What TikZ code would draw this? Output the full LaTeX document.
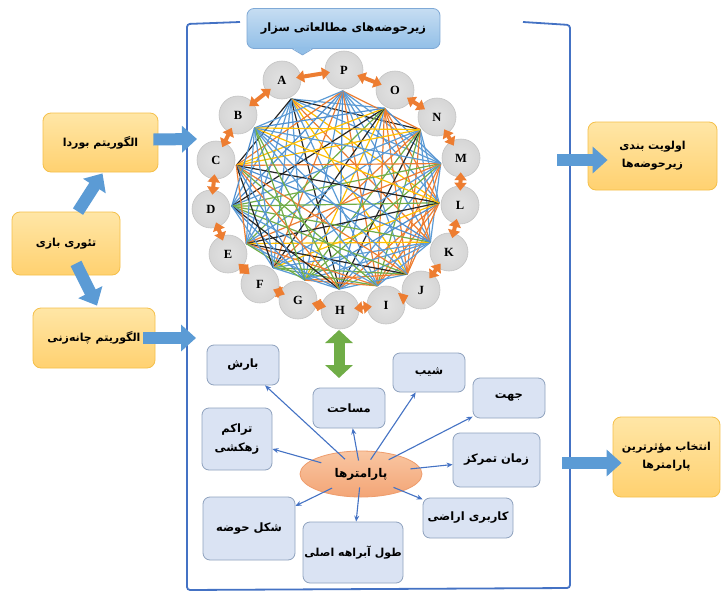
\documentclass[tikz,border=0pt]{standalone}
\usepackage{fontspec}
\setmainfont{Liberation Serif}
\newfontfamily\arabicfont[Script=Arabic]{DejaVu Sans}
\TeXXeTstate=1
\usetikzlibrary{arrows.meta,shapes.geometric,calc}
\newcommand{\prs}[1]{\beginR #1\endR}
\definecolor{frameblue}{HTML}{4472C4}
\definecolor{fatblue}{HTML}{5B9BD5}
\definecolor{fatgreen}{HTML}{70AD47}
\definecolor{orng}{HTML}{ED7D31}
\definecolor{gc0}{HTML}{5B9BD5}
\definecolor{gc1}{HTML}{ED7D31}
\definecolor{gc2}{HTML}{5B9BD5}
\definecolor{gc3}{HTML}{70AD47}
\definecolor{gc4}{HTML}{FFC000}
\definecolor{gc5}{HTML}{5B9BD5}
\definecolor{gc6}{HTML}{262626}
\definecolor{gc7}{HTML}{ED7D31}
\definecolor{gc8}{HTML}{4F8FD0}
\definecolor{gc9}{HTML}{70AD47}
\definecolor{gc10}{HTML}{5B9BD5}
\definecolor{lbedge}{HTML}{F5C04A}
\definecolor{lbtop}{HTML}{FFE6A6}
\definecolor{lbbot}{HTML}{FFD170}
\definecolor{pbedge}{HTML}{8FA2BE}
\definecolor{pbfill}{HTML}{DAE3F3}
\definecolor{gfill}{HTML}{D6D6D6}
\definecolor{gedge}{HTML}{C4C4C4}
\definecolor{parrc}{HTML}{4472C4}
\definecolor{tedge}{HTML}{7FA9D6}
\definecolor{ttop}{HTML}{C6DDF2}
\definecolor{tbot}{HTML}{92BFE7}
\definecolor{eedge}{HTML}{EE9C6C}
\definecolor{etop}{HTML}{F9C6A2}
\definecolor{ebot}{HTML}{F3A576}
\pgfdeclarelayer{bg}
\pgfdeclarelayer{bgw}
\pgfsetlayers{bgw,bg,main}
\begin{document}
\begin{tikzpicture}[x=1pt,y=-1pt,
  leftbox/.style={draw=lbedge, line width=0.8pt, rounded corners=8pt, top color=lbtop, bottom color=lbbot,
    font=\arabicfont\bfseries\fontsize{11}{18}\selectfont, align=center, inner sep=0pt},
  parbox/.style={draw=pbedge, line width=0.8pt, rounded corners=7pt, fill=pbfill,
    font=\arabicfont\bfseries\fontsize{11.5}{19}\selectfont, align=center, inner sep=0pt},
  gnode/.style={circle, inner color=gfill!70!white, outer color=gfill, draw=gedge, line width=0.6pt, minimum size=38pt, inner sep=0pt,
    font=\bfseries\fontsize{12.5}{12}\selectfont},
  oarrow/.style={draw=orng, line width=4pt, shorten <=-5pt, shorten >=-5pt,
    {Triangle[width=12pt,length=8pt]}-{Triangle[width=12pt,length=8pt]}},
  fatarrow/.style={draw=fatblue, line width=12pt, -{Triangle[width=26pt,length=15pt]}},
  parr/.style={draw=parrc, line width=1.1pt, shorten <=-10pt, -{Stealth[length=6pt,width=5pt]}},
]
\useasboundingbox (0,0) rectangle (721,592);
\begin{pgfonlayer}{bgw}
\fill[white] (0,0) rectangle (721,592);
\end{pgfonlayer}

% frame bracket
\draw[frameblue, line width=1.8pt, rounded corners=3pt]
  (240,22) -- (187,24) -- (187,590) -- (570,588) -- (570,25) -- (523,22);

% title callout
\node[draw=tedge, line width=0.8pt, rounded corners=7pt, top color=ttop, bottom color=tbot,
  minimum width=193pt, minimum height=40pt, inner sep=0pt,
  font=\arabicfont\bfseries\fontsize{11.5}{12}\selectfont] (title) at (343.5,28.5)
  {\prs{زیرحوضه‌های مطالعاتی سزار}};
\fill[tbot] ([xshift=-51pt,yshift=1pt]title.south) -- ([xshift=-41pt,yshift=-6pt]title.south)
  -- ([xshift=-31pt,yshift=1pt]title.south) -- cycle;
\draw[tedge, line width=0.8pt] ([xshift=-51pt]title.south) -- ([xshift=-41pt,yshift=-6pt]title.south)
  -- ([xshift=-31pt]title.south);

% ring of nodes
\node[gnode] (n1) at (282,80) {A};
\node[gnode] (n2) at (344,70) {P};
\node[gnode] (n3) at (395,90) {O};
\node[gnode] (n4) at (437,117) {N};
\node[gnode] (n5) at (461,158) {M};
\node[gnode] (n6) at (460,205) {L};
\node[gnode] (n7) at (449,252) {K};
\node[gnode] (n8) at (421,290) {J};
\node[gnode] (n9) at (386,305) {I};
\node[gnode] (n10) at (340,310) {H};
\node[gnode] (n11) at (298,300) {G};
\node[gnode] (n12) at (260,284) {F};
\node[gnode] (n13) at (228,254) {E};
\node[gnode] (n14) at (211,209) {D};
\node[gnode] (n15) at (216,160) {C};
\node[gnode] (n16) at (238,115) {B};
\coordinate (ctr) at (336,192);
\foreach \i in {1,...,16} \coordinate (h\i) at ($(n\i)!21pt!(ctr)$);

\begin{pgfonlayer}{bg}
\foreach \i in {1,...,16} {
  \foreach \j in {1,...,16} {
    \pgfmathtruncatemacro\d{abs(\i-\j)}
    \pgfmathtruncatemacro\c{mod(\i*\i*\j+\j*\j*3+\i*5+\j,11)}
    \pgfmathtruncatemacro\ok{(\i<\j)&&(\d>1)&&(\d<15)}
    \ifnum\ok=1
      \draw[color=gc\c, line width=1.2pt] (h\i) -- (h\j);
    \fi
  }
}
\end{pgfonlayer}

\foreach \i/\j in {1/2,2/3,3/4,4/5,5/6,6/7,7/8,8/9,9/10,10/11,11/12,12/13,13/14,14/15,15/16,16/1}
  \draw[oarrow] (n\i) -- (n\j);

% green double arrow
\coordinate (g1) at (339,330);
\coordinate (g2) at (339,378);
\draw[draw=fatgreen, line width=11pt, {Triangle[width=27pt,length=13pt]}-{Triangle[width=27pt,length=13pt]}] (g1) -- (g2);

% left boxes
\node[leftbox, minimum width=115pt, minimum height=59pt] (borda) at (100.5,142.5) {\prs{الگوریتم بوردا}};
\node[leftbox, minimum width=108pt, minimum height=63pt] (bazi) at (66,243.5) {\prs{تئوری بازی}};
\node[leftbox, minimum width=122pt, minimum height=60pt] (chane) at (94,338) {\prs{الگوریتم چانه‌زنی}};

% right boxes
\node[leftbox, minimum width=129pt, minimum height=68pt] (olaviat) at (652.5,156) {\prs{اولویت بندی}\\\prs{زیرحوضه‌ها}};
\node[leftbox, minimum width=107pt, minimum height=80pt] (entekhab) at (666.5,457) {\prs{انتخاب مؤثرترین}\\\prs{پارامترها}};

% fat arrows
\coordinate (f1) at (197,139);
\coordinate (f2) at (196,338);
\coordinate (f3) at (557,160);
\coordinate (f4) at (562,463);
\draw[fatarrow] ([xshift=-5pt,yshift=3pt]borda.east) -- (f1);
\draw[fatarrow] ([xshift=-12pt]chane.east) -- (f2);
\draw[fatarrow] ([xshift=12pt]bazi.north) -- ([xshift=2pt,yshift=-1pt]borda.south);
\draw[fatarrow] ([xshift=10pt,yshift=12pt]bazi.south) -- ([xshift=3pt,yshift=2pt]chane.north);
\draw[fatarrow] (f3) -- ([xshift=20pt,yshift=-4pt]olaviat.west);
\draw[fatarrow] (f4) -- ([xshift=9pt,yshift=-6pt]entekhab.west);

% parameters
\node[ellipse, draw=eedge, line width=0.8pt, top color=etop, bottom color=ebot,
  minimum width=122pt, minimum height=46pt, inner sep=0pt,
  font=\arabicfont\bfseries\fontsize{12}{12}\selectfont] (ell) at (361,474) {\prs{پارامترها}};

\node[parbox, minimum width=72pt, minimum height=40pt] (barsh) at (243,365) {\prs{بارش}};
\node[parbox, minimum width=72pt, minimum height=40pt] (masahat) at (349,408) {\prs{مساحت}};
\node[parbox, minimum width=72pt, minimum height=39pt] (shib) at (429,372.5) {\prs{شیب}};
\node[parbox, minimum width=72pt, minimum height=40pt] (jahat) at (509,398) {\prs{جهت}};
\node[parbox, minimum width=87pt, minimum height=54pt] (zaman) at (496.5,460) {\prs{زمان تمرکز}};
\node[parbox, minimum width=90pt, minimum height=40pt] (karbari) at (468,518) {\prs{کاربری اراضی}};
\node[parbox, minimum width=100pt, minimum height=61pt, font=\arabicfont\bfseries\fontsize{11}{19}\selectfont] (tool) at (353,552.5) {\prs{طول آبراهه اصلی}};
\node[parbox, minimum width=92pt, minimum height=63pt] (shekl) at (249,528.5) {\prs{شکل حوضه}};
\node[parbox, minimum width=70pt, minimum height=62pt] (tarakom) at (237,439) {\prs{تراکم}\\\prs{زهکشی}};

\draw[parr] (ell) -- (barsh);
\draw[parr] (ell) -- (masahat);
\draw[parr] (ell) -- (shib);
\draw[parr] (ell) -- (jahat);
\draw[parr] (ell) -- (zaman);
\draw[parr] (ell) -- (karbari);
\draw[parr] (ell) -- (tool);
\draw[parr] (ell) -- (shekl);
\draw[parr] (ell) -- (tarakom);
\end{tikzpicture}
\end{document}
